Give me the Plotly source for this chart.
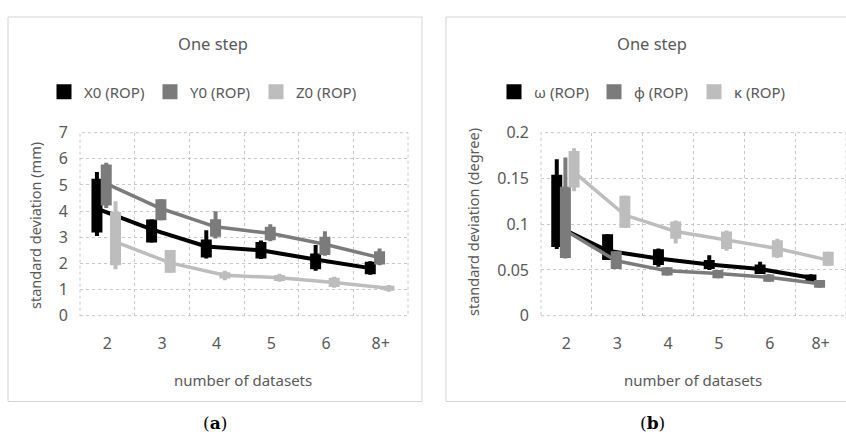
import plotly.graph_objects as go

categories = ["2", "3", "4", "5", "6", "8+"]

# (a) exterior orientation, position: standard deviation in mm
x0_mean = [4.10, 3.30, 2.65, 2.50, 2.15, 1.82]
x0_box_lo = [3.18, 2.80, 2.23, 2.19, 1.78, 1.59]
x0_box_hi = [5.24, 3.68, 2.91, 2.82, 2.38, 2.06]
x0_wsk_lo = [3.05, 2.80, 2.19, 2.17, 1.72, 1.57]
x0_wsk_hi = [5.50, 3.68, 3.27, 2.88, 2.70, 2.08]

y0_mean = [5.05, 4.10, 3.40, 3.15, 2.73, 2.22]
y0_box_lo = [4.22, 3.65, 3.02, 2.89, 2.32, 1.96]
y0_box_hi = [5.78, 4.45, 3.69, 3.40, 3.02, 2.47]
y0_wsk_lo = [4.12, 3.65, 2.95, 2.85, 2.29, 1.93]
y0_wsk_hi = [5.85, 4.45, 4.00, 3.50, 3.23, 2.57]

z0_mean = [2.82, 2.02, 1.55, 1.45, 1.27, 1.05]
z0_box_lo = [1.93, 1.64, 1.42, 1.33, 1.10, 0.95]
z0_box_hi = [3.97, 2.51, 1.66, 1.56, 1.45, 1.15]
z0_wsk_lo = [1.78, 1.64, 1.36, 1.30, 1.07, 0.92]
z0_wsk_hi = [4.38, 2.51, 1.72, 1.60, 1.49, 1.17]

# (b) exterior orientation, rotation: standard deviation in degrees
omega_mean = [0.098, 0.071, 0.0625, 0.056, 0.051, 0.0415]
omega_box_lo = [0.075, 0.061, 0.0553, 0.051, 0.0455, 0.037]
omega_box_hi = [0.154, 0.089, 0.0727, 0.061, 0.056, 0.045]
omega_wsk_lo = [0.073, 0.061, 0.0535, 0.050, 0.0455, 0.037]
omega_wsk_hi = [0.171, 0.089, 0.0735, 0.066, 0.059, 0.045]

phi_mean = [0.093, 0.060, 0.049, 0.046, 0.042, 0.035]
phi_box_lo = [0.063, 0.051, 0.044, 0.041, 0.037, 0.0305]
phi_box_hi = [0.141, 0.0705, 0.053, 0.050, 0.045, 0.039]
phi_wsk_lo = [0.0625, 0.051, 0.044, 0.041, 0.037, 0.0305]
phi_wsk_hi = [0.173, 0.0705, 0.053, 0.050, 0.045, 0.039]

kappa_mean = [0.157, 0.110, 0.092, 0.0825, 0.0735, 0.0607]
kappa_box_lo = [0.140, 0.096, 0.084, 0.073, 0.064, 0.0545]
kappa_box_hi = [0.180, 0.131, 0.103, 0.092, 0.0825, 0.070]
kappa_wsk_lo = [0.136, 0.096, 0.079, 0.071, 0.063, 0.0545]
kappa_wsk_hi = [0.183, 0.131, 0.104, 0.093, 0.084, 0.070]

y_ticks_a = [0, 1, 2, 3, 4, 5, 6, 7]
y_ticks_b = [0, 0.05, 0.1, 0.15, 0.2]
y_ticktext_b = ["0", "0.05", "0.1", "0.15", "0.2"]

BLACK, MID, LIGHT = "#000000", "#7b7b7b", "#bdbdbd"
TXT = "#595959"
FONT = "Noto Sans"
W, H = 846, 432


def px_x(p):
    return p / W


def px_y(p):
    return (H - p) / H


fig = go.Figure()


def add_series(xa, ya, legend, name, color, offset, mean, box_lo, box_hi,
               wsk_lo, wsk_hi, lw):
    xs = [i + offset for i in range(len(categories))]
    # connecting line through the series means
    fig.add_trace(go.Scatter(
        x=xs, y=mean, mode="lines", line=dict(color=color, width=lw),
        xaxis=xa, yaxis=ya, showlegend=False, hoverinfo="skip"))
    # thin whisker (outer range)
    fig.add_trace(go.Scatter(
        x=xs, y=mean, mode="markers", marker=dict(size=0, color=color),
        error_y=dict(type="data", symmetric=False,
                     array=[h - m for h, m in zip(wsk_hi, mean)],
                     arrayminus=[m - l for m, l in zip(mean, wsk_lo)],
                     color=color, thickness=4, width=0),
        xaxis=xa, yaxis=ya, showlegend=False, hoverinfo="skip"))
    # thick box (inner range)
    fig.add_trace(go.Scatter(
        x=xs, y=mean, mode="markers", marker=dict(size=0, color=color),
        error_y=dict(type="data", symmetric=False,
                     array=[h - m for h, m in zip(box_hi, mean)],
                     arrayminus=[m - l for m, l in zip(mean, box_lo)],
                     color=color, thickness=11, width=0),
        xaxis=xa, yaxis=ya, showlegend=False, hoverinfo="skip"))
    # legend entry: square swatch
    fig.add_trace(go.Scatter(
        x=[None], y=[None], mode="markers", name=name, legend=legend,
        marker=dict(symbol="square", size=15, color=color, line=dict(width=0)),
        xaxis=xa, yaxis=ya, showlegend=True, hoverinfo="skip"))


OFFS = [-0.19, -0.02, 0.15]

add_series("x", "y", "legend", "X0 (ROP)", BLACK, OFFS[0], x0_mean,
           x0_box_lo, x0_box_hi, x0_wsk_lo, x0_wsk_hi, 4)
add_series("x", "y", "legend", "Y0 (ROP)", MID, OFFS[1], y0_mean,
           y0_box_lo, y0_box_hi, y0_wsk_lo, y0_wsk_hi, 3.5)
add_series("x", "y", "legend", "Z0 (ROP)", LIGHT, OFFS[2], z0_mean,
           z0_box_lo, z0_box_hi, z0_wsk_lo, z0_wsk_hi, 3.5)

add_series("x2", "y2", "legend2", "ω (ROP)", BLACK, OFFS[0], omega_mean,
           omega_box_lo, omega_box_hi, omega_wsk_lo, omega_wsk_hi, 4)
add_series("x2", "y2", "legend2", "φ (ROP)", MID, OFFS[1], phi_mean,
           phi_box_lo, phi_box_hi, phi_wsk_lo, phi_wsk_hi, 3.5)
add_series("x2", "y2", "legend2", "κ (ROP)", LIGHT, OFFS[2], kappa_mean,
           kappa_box_lo, kappa_box_hi, kappa_wsk_lo, kappa_wsk_hi, 3.5)

GRID = "#c8c8c8"
bounds = [i - 0.5 for i in range(len(categories) + 1)]

xaxis_common = dict(
    range=[-0.5, len(categories) - 0.5], tickmode="array",
    tickvals=list(range(len(categories))), ticktext=categories,
    showgrid=False, zeroline=False, showline=False, ticks="",
    tickfont=dict(family=FONT, size=16, color=TXT), ticklabelstandoff=16,
    minor=dict(tickmode="array", tickvals=bounds, showgrid=True,
               gridcolor=GRID, griddash="dot", gridwidth=1, ticks=""),
    automargin=False, fixedrange=True)

yaxis_common = dict(
    showgrid=True, gridcolor=GRID, griddash="dot", gridwidth=1,
    zeroline=False, showline=False, ticks="",
    tickfont=dict(family=FONT, size=16, color=TXT), ticklabelstandoff=11,
    automargin=False, fixedrange=True)

legend_common = dict(
    orientation="h", xanchor="left", y=px_y(92), yanchor="middle",
    font=dict(family=FONT, size=15, color=TXT), bgcolor="rgba(0,0,0,0)",
    entrywidthmode="pixels", traceorder="normal")

fig.update_layout(
    width=W, height=H,
    margin=dict(l=0, r=0, t=0, b=0, pad=0, autoexpand=False),
    paper_bgcolor="white", plot_bgcolor="white",
    xaxis=dict(domain=[px_x(80), px_x(408)], anchor="y", **xaxis_common),
    yaxis=dict(domain=[px_y(315.7), px_y(132.7)], anchor="x",
               range=[0, 7], tickmode="array", tickvals=y_ticks_a,
               **yaxis_common),
    xaxis2=dict(domain=[px_x(541), 1.0], anchor="y2", **xaxis_common),
    yaxis2=dict(domain=[px_y(315.7), px_y(132.7)], anchor="x2",
                range=[0, 0.2], tickmode="array", tickvals=y_ticks_b,
                ticktext=y_ticktext_b, **yaxis_common),
    legend=dict(x=px_x(44), entrywidth=61, **legend_common),
    legend2=dict(x=px_x(494), entrywidth=55, **legend_common),
    showlegend=True,
)

# chart frames
for x0, x1 in [(8, 422), (446, 870)]:
    fig.add_shape(type="rect", xref="paper", yref="paper",
                  x0=px_x(x0), x1=px_x(x1), y0=px_y(401.5), y1=px_y(17),
                  line=dict(color="#d4d4d4", width=1), fillcolor="rgba(0,0,0,0)",
                  layer="below")

# dotted plot-area borders
for xr, yr in [("x domain", "y domain"), ("x2 domain", "y2 domain")]:
    fig.add_shape(type="rect", xref=xr, yref=yr, x0=0, x1=1, y0=0, y1=1,
                  line=dict(color=GRID, width=1, dash="dot"),
                  fillcolor="rgba(0,0,0,0)", layer="below")


def note(text, x, y, size, angle=0, color=TXT, family=FONT):
    fig.add_annotation(text=text, x=px_x(x), y=px_y(y), xref="paper",
                       yref="paper", showarrow=False, textangle=angle,
                       xanchor="center", yanchor="middle",
                       font=dict(family=family, size=size, color=color))


note("One step", 213, 43, 16.5)
note("One step", 652, 43, 16.5)
note("standard deviation (mm)", 35, 226, 14.5, angle=-90)
note("standard deviation (degree)", 473, 222, 14.5, angle=-90)
note("number of datasets", 243, 380, 15)
note("number of datasets", 693, 380, 15)
note("(<b>a</b>)", 215, 423, 17, color="#000000", family="DejaVu Serif")
note("(<b>b</b>)", 652, 423, 17, color="#000000", family="DejaVu Serif")

fig.write_html("out.html")
